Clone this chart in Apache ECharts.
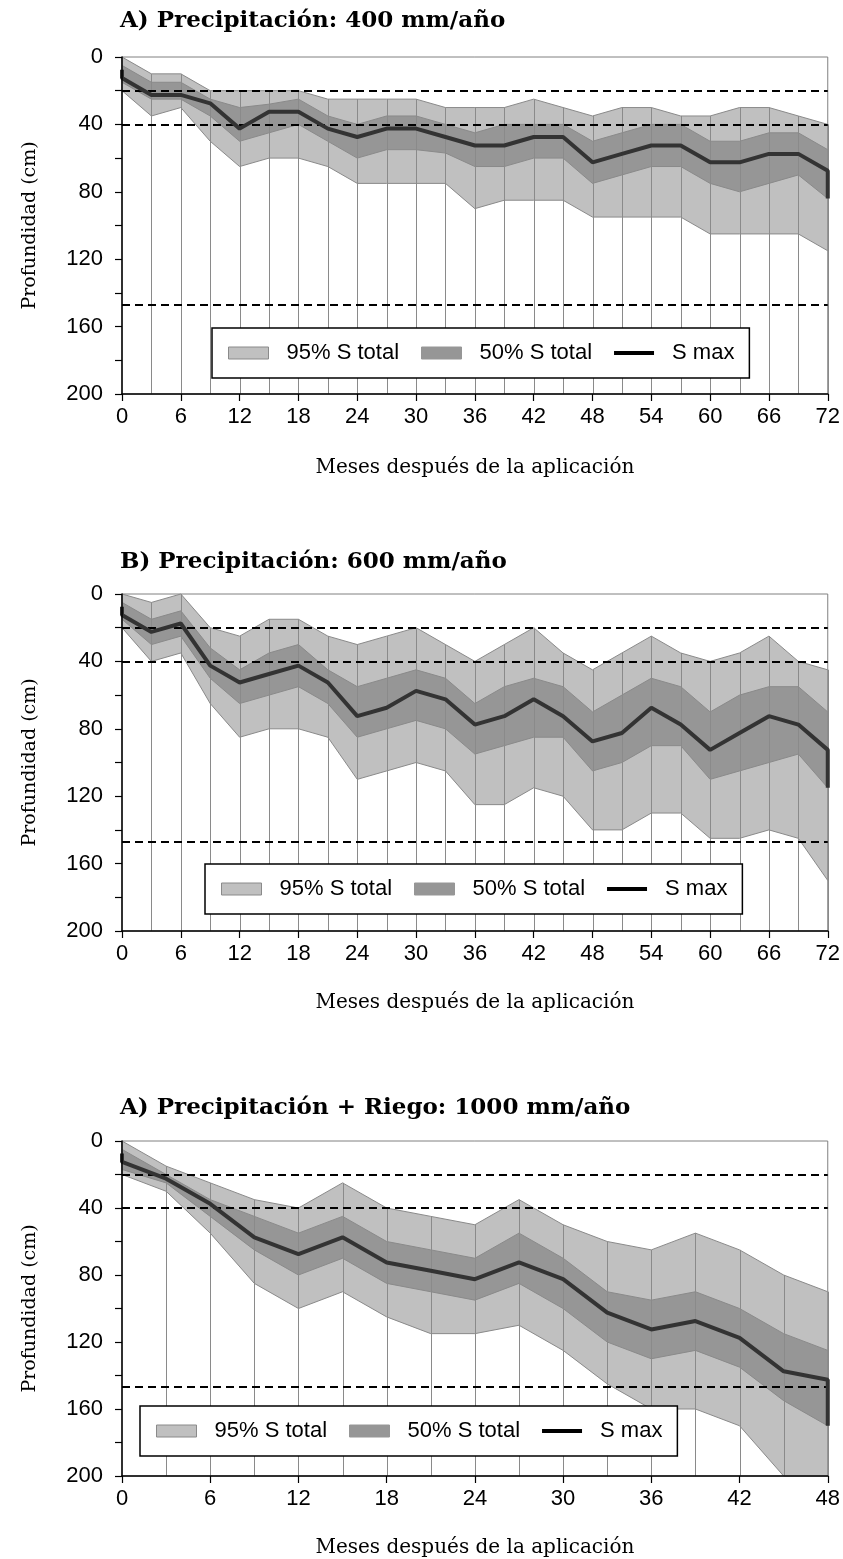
<!DOCTYPE html>
<html>
<head>
<meta charset="utf-8">
<script src="https://cdn.jsdelivr.net/npm/echarts@6/dist/echarts.min.js"></script>
<style>
  html, body { margin: 0; padding: 0; background: #ffffff; }
  #chart { width: 843px; height: 1559px; }
</style>
</head>
<body>
<div id="chart"></div>
<script>
// ---- Panel titles ----
const panelTitles = [
  'A) Precipitación: 400 mm/año',
  'B) Precipitación: 600 mm/año',
  'A) Precipitación + Riego: 1000 mm/año'
];

// ---- Months after application (x values) ----
const monthsA = [0, 3, 6, 9, 12, 15, 18, 21, 24, 27, 30, 33, 36, 39, 42, 45, 48, 51, 54, 57, 60, 63, 66, 69, 72];
const monthsB = [0, 3, 6, 9, 12, 15, 18, 21, 24, 27, 30, 33, 36, 39, 42, 45, 48, 51, 54, 57, 60, 63, 66, 69, 72];
const monthsC = [0, 3, 6, 9, 12, 15, 18, 21, 24, 27, 30, 33, 36, 39, 42, 45, 48];

// ---- Depths (cm): 95% / 50% envelopes of S total and depth of S max ----
// Panel A: 400 mm/año
const p95TopA = [0, 10, 10, 20, 20, 20, 20, 25, 25, 25, 25, 30, 30, 30, 25, 30, 35, 30, 30, 35, 35, 30, 30, 35, 40];
const p50TopA = [5, 15, 15, 25, 30, 28, 25, 35, 40, 35, 35, 40, 45, 40, 40, 40, 50, 45, 40, 40, 50, 50, 45, 45, 55];
const sMaxA   = [12.5, 22.5, 22.5, 27.5, 42.5, 32.5, 32.5, 42.5, 47.5, 42.5, 42.5, 47.5, 52.5, 52.5, 47.5, 47.5, 62.5, 57.5, 52.5, 52.5, 62.5, 62.5, 57.5, 57.5, 67.5];
const p50LowA = [15, 25, 25, 35, 50, 45, 40, 50, 60, 55, 55, 57, 65, 65, 60, 60, 75, 70, 65, 65, 75, 80, 75, 70, 84];
const p95LowA = [20, 35, 30, 50, 65, 60, 60, 65, 75, 75, 75, 75, 90, 85, 85, 85, 95, 95, 95, 95, 105, 105, 105, 105, 115];

// Panel B: 600 mm/año
const p95TopB = [0, 5, 0, 20, 25, 15, 15, 25, 30, 25, 20, 30, 40, 30, 20, 35, 45, 35, 25, 35, 40, 35, 25, 40, 45];
const p50TopB = [5, 15, 10, 32, 45, 35, 30, 45, 55, 50, 45, 50, 65, 55, 50, 55, 70, 60, 50, 55, 70, 60, 55, 55, 70];
const sMaxB   = [12.5, 22.5, 17.5, 42.5, 52.5, 47.5, 42.5, 52.5, 72.5, 67.5, 57.5, 62.5, 77.5, 72.5, 62.5, 72.5, 87.5, 82.5, 67.5, 77.5, 92.5, 82.5, 72.5, 77.5, 92.5];
const p50LowB = [15, 30, 25, 50, 65, 60, 55, 65, 85, 80, 75, 80, 95, 90, 85, 85, 105, 100, 90, 90, 110, 105, 100, 95, 115];
const p95LowB = [20, 40, 35, 65, 85, 80, 80, 85, 110, 105, 100, 105, 125, 125, 115, 120, 140, 140, 130, 130, 145, 145, 140, 145, 170];

// Panel C: precipitación + riego, 1000 mm/año
const p95TopC = [0, 15, 25, 35, 40, 25, 40, 45, 50, 35, 50, 60, 65, 55, 65, 80, 90];
const p50TopC = [5, 20, 35, 45, 55, 45, 60, 65, 70, 55, 70, 90, 95, 90, 100, 115, 125];
const sMaxC   = [12.5, 22.5, 37.5, 57.5, 67.5, 57.5, 72.5, 77.5, 82.5, 72.5, 82.5, 102.5, 112.5, 107.5, 117.5, 137.5, 142.5];
const p50LowC = [17, 25, 45, 65, 80, 70, 85, 90, 95, 85, 100, 120, 130, 125, 135, 155, 170];
const p95LowC = [20, 30, 55, 85, 100, 90, 105, 115, 115, 110, 125, 145, 160, 160, 170, 200, 200];

// Depth where each S max trace starts at month 0
const sMaxStartDepth = [7.5, 7.5, 7.5];

// Reference depths drawn as dashed lines (cm)
const refDepths = [20, 40, 147];

// Axis ranges
const xMaxima = [72, 72, 48];
const depthMax = 200;

// Legend entries
const legendNames = ['95% S total', '50% S total', 'S max'];

// ---- Styling ----
const LIGHT = '#c0c0c0';
const DARK = '#969696';
const EDGE = '#8a8a8a';
const SMAX = '#333333';
const SANS = 'Liberation Sans, Arial, sans-serif';
const SERIF = 'DejaVu Serif, Georgia, serif';

const panels = [
  { months: monthsA, p95Top: p95TopA, p50Top: p50TopA, sMax: sMaxA, p50Low: p50LowA, p95Low: p95LowA },
  { months: monthsB, p95Top: p95TopB, p50Top: p50TopB, sMax: sMaxB, p50Low: p50LowB, p95Low: p95LowB },
  { months: monthsC, p95Top: p95TopC, p50Top: p50TopC, sMax: sMaxC, p50Low: p50LowC, p95Low: p95LowC }
];

// Layout of the three plot areas
const gridTops = [57, 594, 1141];
const gridHeights = [337, 337, 336];
const titleTops = [10, 551, 1097];
const xNameGaps = [64, 62, 62];
const legendBoxes = [
  { left: 212, top: 328 },
  { left: 205, top: 864 },
  { left: 140, top: 1406 }
];

// Filled envelope between an upper and a lower depth profile, drawn as one polygon
function envelopeRenderer(fill, stroke) {
  return (params, api) => {
    if (params.dataIndexInside !== 0) return null;
    const n = params.dataInsideLength;
    const upper = [], lower = [];
    for (let k = 0; k < n; k++) {
      upper.push(api.coord([api.value(0, k), api.value(1, k)]));
      lower.push(api.coord([api.value(0, k), api.value(2, k)]));
    }
    return {
      type: 'polygon',
      shape: { points: upper.concat(lower.reverse()) },
      style: { fill: fill, stroke: stroke, lineWidth: 1 }
    };
  };
}

const grids = [], xAxes = [], yAxes = [], series = [], titles = [], legends = [];

panels.forEach((p, i) => {
  grids.push({
    left: 122, width: 706, top: gridTops[i], height: gridHeights[i],
    show: true, borderColor: '#808080', borderWidth: 1, backgroundColor: 'transparent'
  });

  titles.push({
    text: panelTitles[i], left: 120, top: titleTops[i], padding: 0,
    textStyle: { fontFamily: SERIF, fontWeight: 'bold', fontSize: 23, color: '#000' }
  });

  xAxes.push({
    gridIndex: i, type: 'value', min: 0, max: xMaxima[i], interval: 6, z: 10,
    axisLine: { show: true, onZero: false, lineStyle: { color: '#000', width: 1.5 } },
    axisTick: { show: true, length: 7, lineStyle: { color: '#000', width: 1.2 } },
    axisLabel: { fontFamily: SANS, fontSize: 22, color: '#000', margin: 12 },
    splitLine: { show: false },
    name: 'Meses después de la aplicación', nameLocation: 'middle', nameGap: xNameGaps[i],
    nameTextStyle: { fontFamily: SERIF, fontSize: 20, color: '#000' }
  });

  yAxes.push({
    gridIndex: i, type: 'value', inverse: true, min: 0, max: depthMax, interval: 20, z: 10,
    axisLine: { show: true, onZero: false, lineStyle: { color: '#000', width: 1.5 } },
    axisTick: { show: true, length: 7, lineStyle: { color: '#000', width: 1.2 } },
    axisLabel: {
      fontFamily: SANS, fontSize: 22, color: '#000', margin: 19,
      formatter: v => (v % 40 === 0 ? String(v) : '')
    },
    splitLine: { show: false },
    name: 'Profundidad (cm)', nameLocation: 'middle', nameGap: 82, nameRotate: 90,
    nameTextStyle: { fontFamily: SERIF, fontSize: 19, color: '#000' }
  });

  const rows = (up, lo) => p.months.map((m, k) => [m, up[k], lo[k]]);

  // 95% envelope of S total
  series.push({
    type: 'custom', name: '95% S total', xAxisIndex: i, yAxisIndex: i, silent: true, z: 2,
    itemStyle: { color: LIGHT },
    encode: { x: 0, y: [1, 2] },
    data: rows(p.p95Top, p.p95Low),
    renderItem: envelopeRenderer(LIGHT, EDGE)
  });
  // 50% band of S total
  series.push({
    type: 'custom', name: '50% S total', xAxisIndex: i, yAxisIndex: i, silent: true, z: 3,
    itemStyle: { color: DARK },
    encode: { x: 0, y: [1, 2] },
    data: rows(p.p50Top, p.p50Low),
    renderItem: envelopeRenderer(DARK, EDGE)
  });

  // Drop lines from the top of the envelope down to the bottom axis
  series.push({
    type: 'custom', xAxisIndex: i, yAxisIndex: i, silent: true, z: 4,
    encode: { x: 0, y: 1 },
    data: p.months.map((m, k) => [m, p.p95Top[k]]).filter(d => d[0] > 0),
    renderItem: (params, api) => {
      const a = api.coord([api.value(0), api.value(1)]);
      const b = api.coord([api.value(0), depthMax]);
      const x = Math.round(a[0]) + 0.5;
      return {
        type: 'line',
        shape: { x1: x, y1: a[1], x2: x, y2: b[1] },
        style: { stroke: EDGE, lineWidth: 1 }
      };
    }
  });

  // S max trace, closing down to the 50% band at the last month
  const last = p.months.length - 1;
  series.push({
    type: 'line', name: 'S max', xAxisIndex: i, yAxisIndex: i, symbol: 'none', silent: true, z: 6,
    lineStyle: { color: SMAX, width: 4 }, itemStyle: { color: SMAX },
    data: [[0, sMaxStartDepth[i]]].concat(
      p.months.map((m, k) => [m, p.sMax[k]]),
      [[p.months[last], p.p50Low[last]]]
    ),
    markLine: {
      silent: true, symbol: 'none', label: { show: false },
      lineStyle: { color: '#000', type: [8, 5], width: 2 },
      emphasis: { disabled: true },
      data: refDepths.map(d => ({ yAxis: d }))
    }
  });

  // Boxed legend sitting above the plotted marks
  legends.push({
    left: legendBoxes[i].left, top: legendBoxes[i].top, z: 20,
    orient: 'horizontal', selectedMode: false, symbolKeepAspect: true,
    backgroundColor: '#fff', borderColor: '#000', borderWidth: 1.5,
    padding: [14, 15, 14, 16], itemGap: 22, itemWidth: 40, itemHeight: 12,
    textStyle: { fontFamily: SANS, fontSize: 22, color: '#000', padding: [0, 0, 0, 13] },
    data: [
      { name: legendNames[0], icon: 'rect', itemStyle: { color: LIGHT, borderColor: EDGE, borderWidth: 1 } },
      { name: legendNames[1], icon: 'rect', itemStyle: { color: DARK, borderColor: DARK, borderWidth: 1 } },
      { name: legendNames[2], icon: 'path://M0,0H40V4H0Z', itemStyle: { color: '#000', borderWidth: 0 } }
    ]
  });
});

const chart = echarts.init(document.getElementById('chart'), null, { renderer: 'canvas' });
chart.setOption({
  animation: false,
  backgroundColor: '#ffffff',
  title: titles,
  legend: legends,
  grid: grids,
  xAxis: xAxes,
  yAxis: yAxes,
  series: series
});
</script>
</body>
</html>
